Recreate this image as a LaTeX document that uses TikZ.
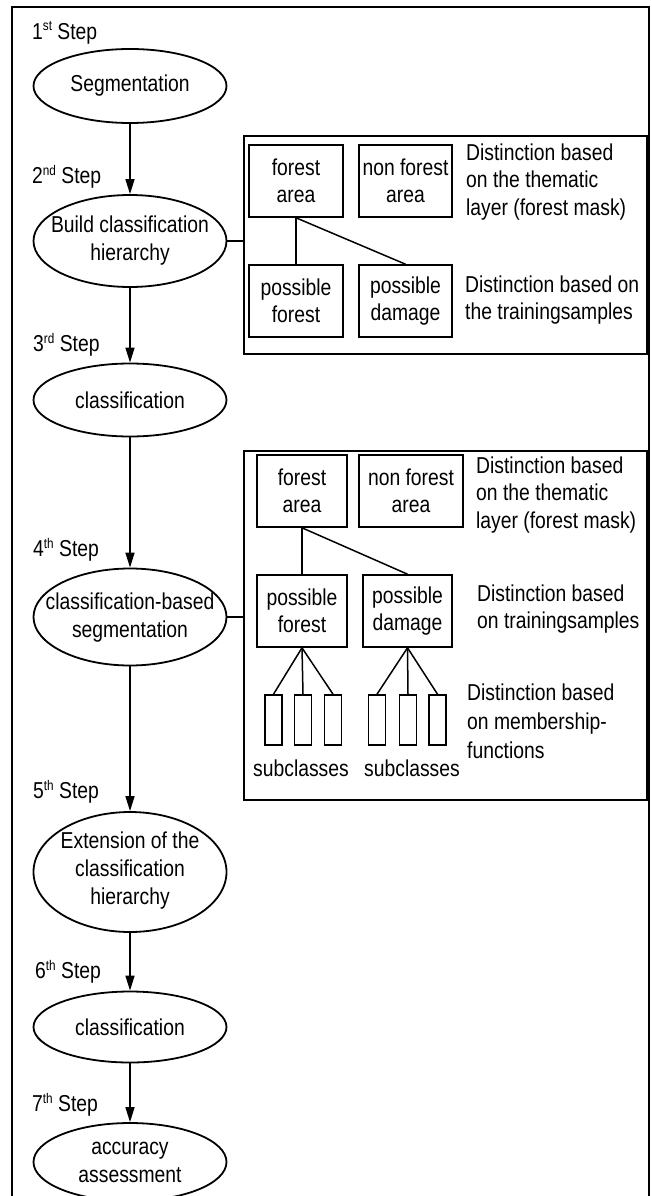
\documentclass[tikz,border=0pt]{standalone}
\usepackage{fontspec}
\setmainfont{Liberation Sans}[FakeStretch=0.84]
\usetikzlibrary{shapes.geometric,arrows.meta}
\newcommand\supx[1]{\raisebox{8.5pt}{\fontsize{14}{14}\selectfont #1}}
\tikzset{
  txt/.style={font=\fontsize{23}{28}\selectfont, inner sep=0pt, align=center},
  ltxt/.style={font=\fontsize{23}{27.5}\selectfont, inner sep=0pt, align=left, anchor=west},
  steplbl/.style={font=\fontsize{23}{28}\selectfont, inner sep=0pt, anchor=west},
  ell/.style={ellipse, draw, line width=1.8pt, minimum width=193pt, inner sep=0pt},
  cls/.style={rectangle, draw, line width=1.6pt, inner sep=0pt, align=center,
              font=\fontsize{23}{27}\selectfont},
  sub/.style={rectangle, draw, line width=1.6pt, minimum width=17pt, minimum height=50pt, inner sep=0pt},
  grp/.style={draw, line width=1.6pt},
  arr/.style={line width=1.5pt, -{Triangle[length=15pt,width=9pt]}},
  con/.style={line width=1.5pt}
}
\begin{document}
\begin{tikzpicture}[x=1pt,y=-1pt]
\useasboundingbox (0,0) rectangle (651,1196);
\clip (0,0) rectangle (651,1196);
% outer frame
\draw[line width=2.2pt] (12,1210) -- (12,7) -- (649,7) -- (649,1210);

% step labels
\node[steplbl] (s1) at (32,33) {1\supx{st} Step};
\node[steplbl] (s2) at (32,177) {2\supx{nd} Step};
\node[steplbl] (s3) at (33,345) {3\supx{rd} Step};
\node[steplbl] (s4) at (33,550) {4\supx{th} Step};
\node[steplbl] (s5) at (33,792) {5\supx{th} Step};
\node[steplbl] (s6) at (35,972) {6\supx{th} Step};
\node[steplbl] (s7) at (32,1105) {7\supx{th} Step};

% ellipses
\node[ell, minimum height=74pt] (e1) at (130,86) {};
\node[txt] (e1t) at (e1) {Segmentation};
\node[ell, minimum height=92pt] (e2) at (130,241) {};
\node[txt] (e2t) at (e2) {Build classification\\hierarchy};
\node[ell, minimum height=73pt] (e3) at (130,400) {};
\node[txt] (e3t) at (e3) {classification};
\node[ell, minimum height=97pt] (e4) at (130,617) {};
\node[txt] (e4t) at (130,618) {classification-based\\segmentation};
\node[ell, minimum height=120pt] (e5) at (130,872) {};
\node[txt] (e5t) at (130,871) {Extension of the\\classification\\hierarchy};
\node[ell, minimum height=71pt] (e6) at (130,1027) {};
\node[txt] (e6t) at (e6) {classification};
\node[ell, minimum height=78pt] (e7) at (130,1162) {};
\node[txt] (e7t) at (e7) {accuracy\\assessment};

% main arrows
\draw[arr] (e1.south) -- (e2.north);
\draw[arr] (e2.south) -- (e3.north);
\draw[arr] (e3.south) -- (e4.north);
\draw[arr] (e4.south) -- (e5.north);
\draw[arr] (e5.south) -- (e6.north);
\draw[arr] (e6.south) -- (e7.north);

% group box 1
\node[grp, minimum width=403pt, minimum height=218pt, anchor=north west, inner sep=0pt] (g1) at (243,135) {};
\node[cls, minimum width=94pt, minimum height=72pt] (fa1) at (296,181) {forest\\area};
\node[cls, minimum width=93pt, minimum height=72pt] (nf1) at (405.5,181) {non forest\\area};
\node[cls, minimum width=94pt, minimum height=72pt] (pf1) at (296,301) {possible\\forest};
\node[cls, minimum width=93pt, minimum height=72pt] (pd1) at (405.5,301) {possible\\damage};
\node[ltxt] (d1a) at (466,182) {Distinction based\\on the thematic\\layer (forest mask)};
\node[ltxt] (d1b) at (465,300) {Distinction based on\\the trainingsamples};
\draw[con] (fa1.south) -- (pf1.north);
\draw[con] (fa1.south) -- (pd1.north);
\draw[con] (e2.east) -- (e2.east -| g1.west);

% group box 2
\node[grp, minimum width=403pt, minimum height=349pt, anchor=north west, inner sep=0pt] (g2) at (243,450) {};
\node[cls, minimum width=90pt, minimum height=72pt] (fa2) at (302,491) {forest\\area};
\node[cls, minimum width=104pt, minimum height=72pt] (nf2) at (411,491) {non forest\\area};
\node[cls, minimum width=90pt, minimum height=72pt] (pf2) at (302,611) {possible\\forest};
\node[cls, minimum width=89pt, minimum height=72pt] (pd2) at (407.5,611) {possible\\damage};
\node[ltxt] (d2a) at (476,495) {Distinction based\\on the thematic\\layer (forest mask)};
\node[ltxt] (d2b) at (477,609) {Distinction based\\on trainingsamples};
\node[ltxt, font=\fontsize{23}{29}\selectfont] (d2c) at (467,721) {Distinction based\\on membership-\\functions};
\draw[con] (fa2.south) -- (pf2.north);
\draw[con] (fa2.south) -- (pd2.north);
\draw[con] (e4.east) -- (e4.east -| g2.west);

\node[sub] (a1) at (273.5,720) {};
\node[sub] (a2) at (303,720) {};
\node[sub] (a3) at (333,720) {};
\node[sub] (b1) at (377,720) {};
\node[sub] (b2) at (408,720) {};
\node[sub] (b3) at (437.5,720) {};
\draw[con] (pf2.south) -- (a1.north);
\draw[con] (pf2.south) -- (a2.north);
\draw[con] (pf2.south) -- (a3.north);
\draw[con] (pd2.south) -- (b1.north);
\draw[con] (pd2.south) -- (b2.north);
\draw[con] (pd2.south) -- (b3.north);
\node[txt] (sc1) at (301,768) {subclasses};
\node[txt] (sc2) at (412,768) {subclasses};
\end{tikzpicture}
\end{document}
